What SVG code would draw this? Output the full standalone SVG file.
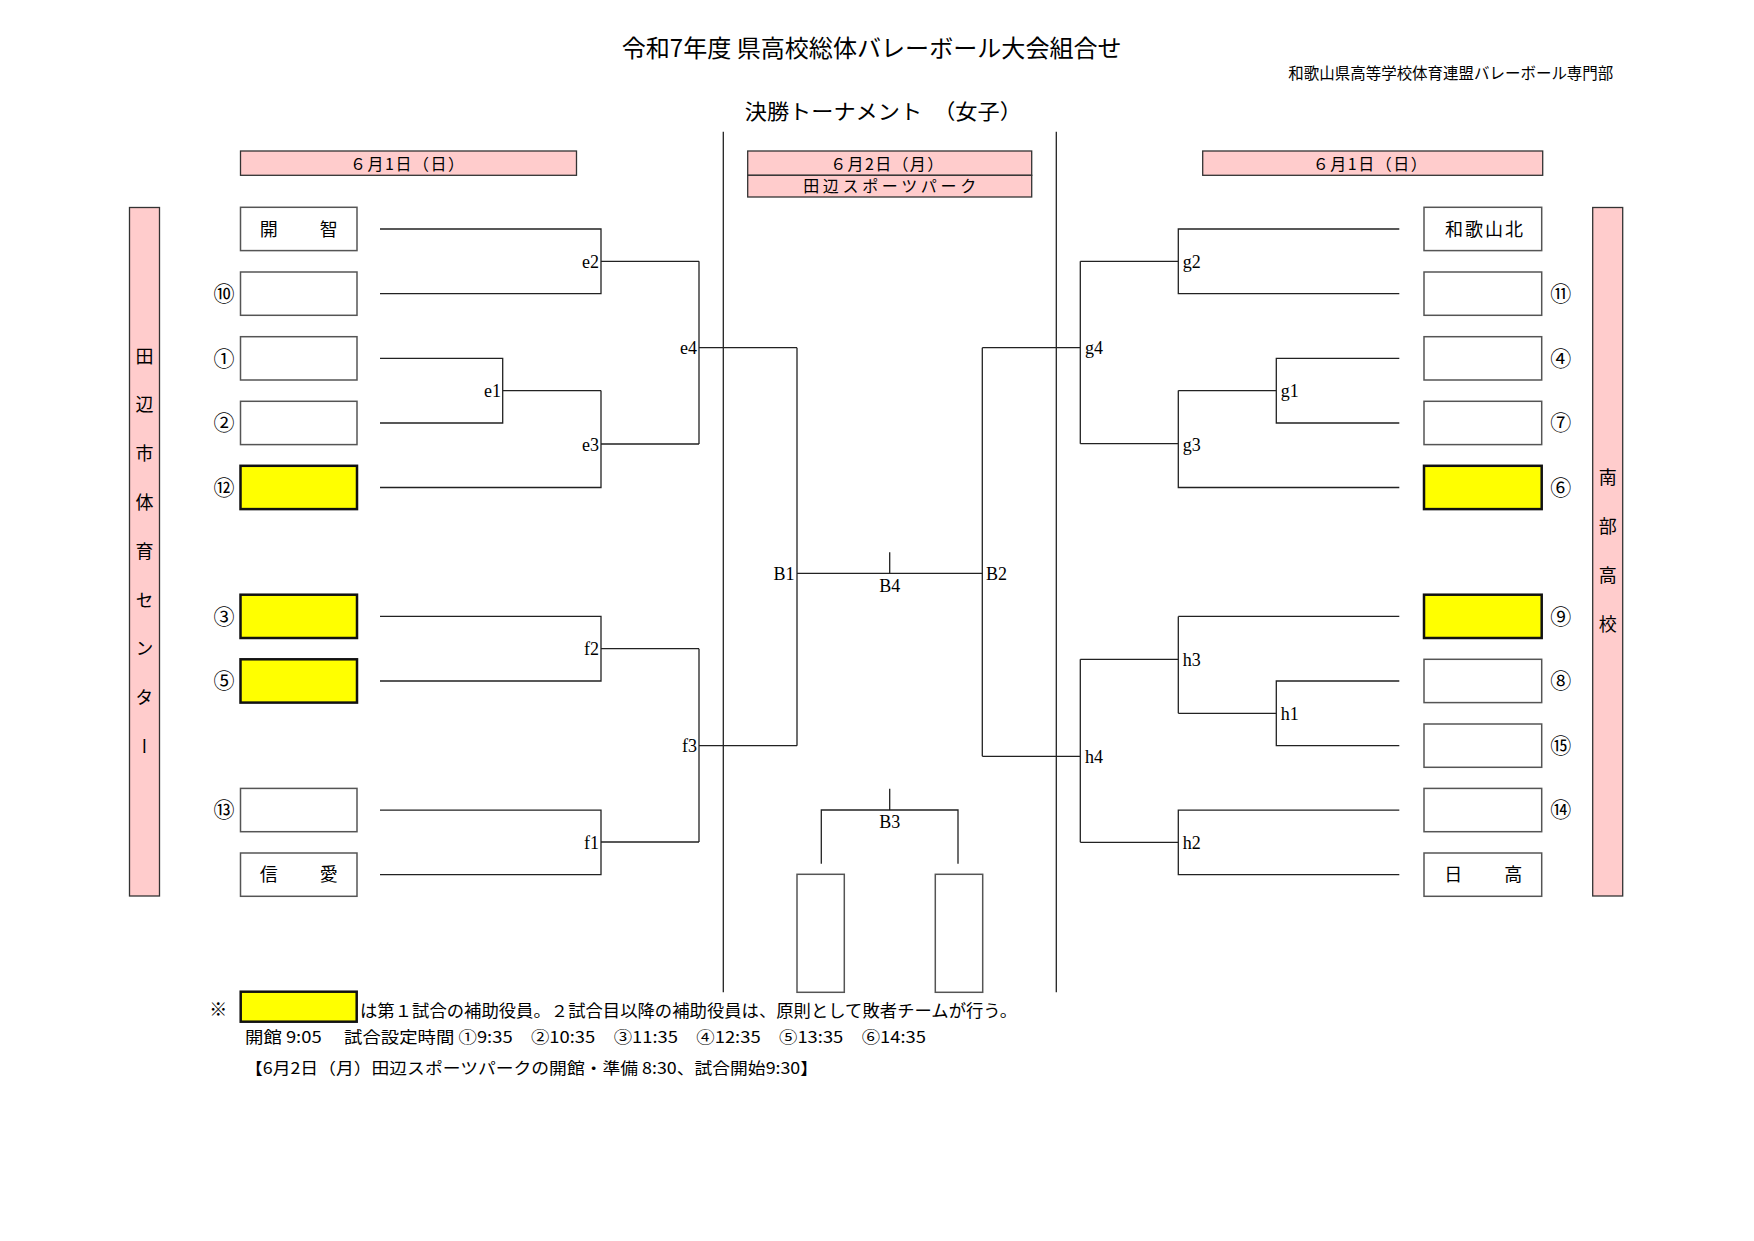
<svg xmlns="http://www.w3.org/2000/svg" width="1754" height="1241" viewBox="0 0 1754 1241">
<style>
.t{font-family:"Noto Sans CJK JP","Noto Sans",sans-serif;fill:#000}
.lbl{font-family:"Liberation Serif","DejaVu Serif",serif;font-size:18px;fill:#000}
.num{font-family:"Noto Sans CJK JP","DejaVu Sans",sans-serif;font-size:21px;fill:#000;text-anchor:middle}
.name{font-family:"Noto Sans CJK JP",sans-serif;font-size:18px;fill:#000;text-anchor:middle}
.ln{stroke:#222;stroke-width:1.3;fill:none}
.box{fill:#fff;stroke:#555;stroke-width:1.5}
.ybox{fill:#ffff00;stroke:#111;stroke-width:2.5}
.pink{fill:#ffcccc;stroke:#333;stroke-width:1.3}
.vt{font-family:"Noto Sans CJK JP",sans-serif;font-size:18px;fill:#000;writing-mode:vertical-rl}
</style>
<rect width="1754" height="1241" fill="#fff"/>

<g id="title">
<text class="t" x="871.7" y="56.5" font-size="24" text-anchor="middle" textLength="500" lengthAdjust="spacingAndGlyphs">令和7年度 県高校総体バレーボール大会組合せ</text>
<text class="t" x="1450.8" y="79" font-size="16" text-anchor="middle" textLength="325" lengthAdjust="spacingAndGlyphs">和歌山県高等学校体育連盟バレーボール専門部</text>
<text class="t" x="883.3" y="119" font-size="21" text-anchor="middle" textLength="277" lengthAdjust="spacingAndGlyphs">決勝トーナメント　（女子）</text>
</g>

<g id="header-left">
<rect class="pink" x="240.5" y="151" width="336" height="24.3"/>
<text class="t" x="407" y="169.5" font-size="16" text-anchor="middle" textLength="114" lengthAdjust="spacing">６月1日（日）</text>
</g>
<g id="header-center">
<rect class="pink" x="747.7" y="151" width="284" height="24.3"/>
<rect class="pink" x="747.7" y="175.3" width="284" height="21.7"/>
<text class="t" x="886.7" y="169.5" font-size="16" text-anchor="middle" textLength="113" lengthAdjust="spacing">６月2日（月）</text>
<text class="t" x="889.7" y="192" font-size="16" text-anchor="middle" textLength="173" lengthAdjust="spacing">田辺スポーツパーク</text>
</g>
<g id="header-right">
<rect class="pink" x="1202.7" y="151" width="340" height="24.3"/>
<text class="t" x="1369.7" y="169.5" font-size="16" text-anchor="middle" textLength="114" lengthAdjust="spacing">６月1日（日）</text>
</g>

<g id="venue-left">
<rect class="pink" x="129.5" y="207.5" width="30" height="688.5"/>
<text class="vt" x="144.5" y="346.7" letter-spacing="30.8">田辺市体育センター</text>
</g>
<g id="venue-right">
<rect class="pink" x="1592.7" y="207.5" width="30" height="688.5"/>
<text class="vt" x="1607.7" y="468.3" letter-spacing="31">南部高校</text>
</g>

<g id="connectors">
<path class="ln" d="M723.3,131.7V992.3M1056.3,131.7V992.3"/>
<path class="ln" d="M380,229H601V293.7H380M601,261.3H699"/>
<path class="ln" d="M380,358.3H502.7V423H380M502.7,390.6H601"/>
<path class="ln" d="M380,487.5H601V390.6M601,444H699"/>
<path class="ln" d="M699,261.3V444M699,347.7H797"/>
<path class="ln" d="M380,616.4H601V681H380M601,648.7H699"/>
<path class="ln" d="M380,810.1H601V874.7H380M601,842H699"/>
<path class="ln" d="M699,648.7V842M699,745.7H797"/>
<path class="ln" d="M797,347.7V745.7M797,573.3H982.3M889.7,552.3V573.3"/>
<path class="ln" d="M982.3,347.7V756.3"/>
<path class="ln" d="M982.3,347.7H1080.3M1080.3,261.3V443.7"/>
<path class="ln" d="M1080.3,261.3H1178.3M1399.3,229H1178.3V293.7H1399.3"/>
<path class="ln" d="M1080.3,443.7H1178.3M1178.3,390.6V487.5H1399.3"/>
<path class="ln" d="M1178.3,390.6H1276.3M1399.3,358.3H1276.3V423H1399.3"/>
<path class="ln" d="M982.3,756.3H1080.3M1080.3,659.3V842.3"/>
<path class="ln" d="M1080.3,659.3H1178.3M1178.3,616.4V713.3M1178.3,616.4H1399.3"/>
<path class="ln" d="M1178.3,713.3H1276.3M1399.3,681H1276.3V745.7H1399.3"/>
<path class="ln" d="M1080.3,842.3H1178.3M1399.3,810.1H1178.3V874.7H1399.3"/>
<path class="ln" d="M889.7,788.7V810M821.3,863.7V810H958V863.7"/>
</g>

<g id="match-labels">
<text class="lbl" x="599" y="267.5" text-anchor="end">e2</text>
<text class="lbl" x="501" y="397" text-anchor="end">e1</text>
<text class="lbl" x="599" y="450.5" text-anchor="end">e3</text>
<text class="lbl" x="697" y="354" text-anchor="end">e4</text>
<text class="lbl" x="599" y="655" text-anchor="end">f2</text>
<text class="lbl" x="599" y="849" text-anchor="end">f1</text>
<text class="lbl" x="697" y="752" text-anchor="end">f3</text>
<text class="lbl" x="794.5" y="580" text-anchor="end">B1</text>
<text class="lbl" x="986" y="580">B2</text>
<text class="lbl" x="889.7" y="591.5" text-anchor="middle">B4</text>
<text class="lbl" x="889.7" y="828" text-anchor="middle">B3</text>
<text class="lbl" x="1182.7" y="267.5">g2</text>
<text class="lbl" x="1085" y="354">g4</text>
<text class="lbl" x="1182.7" y="450.5">g3</text>
<text class="lbl" x="1280.7" y="397">g1</text>
<text class="lbl" x="1182.7" y="666">h3</text>
<text class="lbl" x="1085" y="762.5">h4</text>
<text class="lbl" x="1182.7" y="849">h2</text>
<text class="lbl" x="1280.7" y="720">h1</text>
</g>

<g id="team-L0"><rect class="box" x="240.5" y="207.3" width="116.5" height="43.3"/><text class="name" x="298.7" y="235.5" textLength="78" lengthAdjust="spacing">開　　智</text></g>
<g id="team-L1"><rect class="box" x="240.5" y="272" width="116.5" height="43.3"/><text class="num" x="224" y="301">⑩</text></g>
<g id="team-L2"><rect class="box" x="240.5" y="336.7" width="116.5" height="43.3"/><text class="num" x="224" y="365.5">①</text></g>
<g id="team-L3"><rect class="box" x="240.5" y="401.3" width="116.5" height="43.3"/><text class="num" x="224" y="430.3">②</text></g>
<g id="team-L4"><rect class="ybox" x="240.5" y="465.8" width="116.5" height="43.3"/><text class="num" x="224" y="494.8">⑫</text></g>
<g id="team-L6"><rect class="ybox" x="240.5" y="594.7" width="116.5" height="43.3"/><text class="num" x="224" y="623.7">③</text></g>
<g id="team-L7"><rect class="ybox" x="240.5" y="659.3" width="116.5" height="43.3"/><text class="num" x="224" y="688.3">⑤</text></g>
<g id="team-L9"><rect class="box" x="240.5" y="788.4" width="116.5" height="43.3"/><text class="num" x="224" y="817.4">⑬</text></g>
<g id="team-L10"><rect class="box" x="240.5" y="853" width="116.5" height="43.3"/><text class="name" x="298.7" y="881.2" textLength="78" lengthAdjust="spacing">信　　愛</text></g>

<g id="team-R0"><rect class="box" x="1424" y="207.3" width="117.7" height="43.3"/><text class="name" x="1484" y="235.5" textLength="78" lengthAdjust="spacing">和歌山北</text></g>
<g id="team-R1"><rect class="box" x="1424" y="272" width="117.7" height="43.3"/><text class="num" x="1560.7" y="301">⑪</text></g>
<g id="team-R2"><rect class="box" x="1424" y="336.7" width="117.7" height="43.3"/><text class="num" x="1560.7" y="365.5">④</text></g>
<g id="team-R3"><rect class="box" x="1424" y="401.3" width="117.7" height="43.3"/><text class="num" x="1560.7" y="430.3">⑦</text></g>
<g id="team-R4"><rect class="ybox" x="1424" y="465.8" width="117.7" height="43.3"/><text class="num" x="1560.7" y="494.8">⑥</text></g>
<g id="team-R6"><rect class="ybox" x="1424" y="594.7" width="117.7" height="43.3"/><text class="num" x="1560.7" y="623.7">⑨</text></g>
<g id="team-R7"><rect class="box" x="1424" y="659.3" width="117.7" height="43.3"/><text class="num" x="1560.7" y="688.3">⑧</text></g>
<g id="team-R8"><rect class="box" x="1424" y="724" width="117.7" height="43.3"/><text class="num" x="1560.7" y="753">⑮</text></g>
<g id="team-R9"><rect class="box" x="1424" y="788.4" width="117.7" height="43.3"/><text class="num" x="1560.7" y="817.4">⑭</text></g>
<g id="team-R10"><rect class="box" x="1424" y="853" width="117.7" height="43.3"/><text class="name" x="1483.3" y="881.2" textLength="78" lengthAdjust="spacing">日　　高</text></g>

<g id="third-place-boxes">
<rect class="box" x="797" y="874.3" width="47.3" height="118"/>
<rect class="box" x="935.3" y="874.3" width="47.4" height="118"/>
</g>

<g id="notes">
<text class="t" x="218.3" y="1016" font-size="18" text-anchor="middle">※</text>
<rect class="ybox" x="240.7" y="991.7" width="116" height="30"/>
<text class="t" x="360" y="1017" font-size="16.5" textLength="657" lengthAdjust="spacingAndGlyphs">は第１試合の補助役員。２試合目以降の補助役員は、原則として敗者チームが行う。</text>
<text class="t" x="245" y="1043" font-size="16" textLength="681" lengthAdjust="spacingAndGlyphs">開館 9:05　 試合設定時間 ①9:35　②10:35　③11:35　④12:35　⑤13:35　⑥14:35</text>
<text class="t" x="245" y="1074" font-size="16" textLength="573" lengthAdjust="spacingAndGlyphs">【6月2日（月）田辺スポーツパークの開館・準備 8:30、試合開始9:30】</text>
</g>
</svg>
